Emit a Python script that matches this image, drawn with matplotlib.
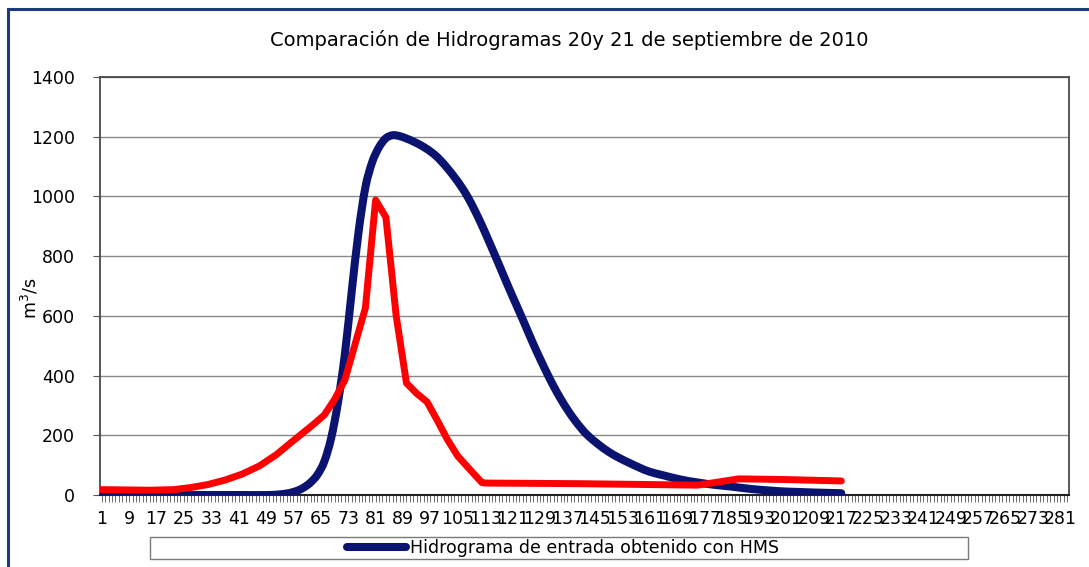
import matplotlib
matplotlib.use("Agg")
import numpy as np
import matplotlib.pyplot as plt
from matplotlib.lines import Line2D
from matplotlib.patches import Rectangle, PathPatch
from matplotlib.path import Path

# Hydrograph samples (time step, discharge in m3/s)
hms_step = [1, 20, 40, 50, 55, 58, 60, 62, 64, 66, 68, 70, 72, 74, 76, 78, 80,
            82, 84, 86, 88, 90, 92, 95, 98, 100, 102, 104, 106, 108, 110, 112,
            114, 116, 118, 120, 122, 124, 127, 129, 131, 133, 135, 137, 139,
            141, 143, 146, 149, 152, 155, 158, 161, 165, 170, 175, 180, 185,
            190, 195, 200, 205, 210, 217]
hms_flow = [0, 0, 0, 0, 5, 14, 25, 42, 68, 112, 190, 310, 470, 680, 880, 1030,
            1115, 1165, 1195, 1205, 1202, 1194, 1184, 1166, 1142, 1120, 1094,
            1065, 1033, 996, 952, 904, 852, 799, 745, 691, 639, 587, 507, 457,
            409, 364, 323, 286, 253, 224, 199, 170, 145, 125, 108, 92, 78, 66,
            52, 42, 34, 28, 21, 16, 12, 10, 8, 6]

obs_step = [1, 15, 22, 27, 32, 37, 42, 47, 52, 56, 60, 63, 66, 69, 72, 78, 81,
            84, 87, 90, 93, 96, 99, 102, 105, 108, 112, 113, 140, 175, 182, 187,
            200, 217]
obs_flow = [18, 16, 18, 25, 35, 50, 70, 97, 135, 173, 210, 238, 268, 320, 385,
            626, 988, 930, 600, 375, 340, 312, 250, 185, 130, 92, 42, 40, 38, 33,
            45, 54, 52, 47]

n_steps = 283
tick_steps = list(range(1, 282, 8))
y_ticks = [0, 200, 400, 600, 800, 1000, 1200, 1400]

title = "Comparación de Hidrogramas 20y 21 de septiembre de 2010"
hms_label = "Hidrograma de entrada obtenido con HMS"


def smooth_path(xs, ys, tension=6.0):
    """Cubic Bezier path through the points (Catmull-Rom style smoothing)."""
    x = np.asarray(xs, float)
    y = np.asarray(ys, float)
    verts = [(x[0], y[0])]
    codes = [Path.MOVETO]
    n = len(x)
    for i in range(n - 1):
        x0, y0 = (x[i - 1], y[i - 1]) if i > 0 else (x[i], y[i])
        x3, y3 = (x[i + 2], y[i + 2]) if i + 2 < n else (x[i + 1], y[i + 1])
        c1 = (x[i] + (x[i + 1] - x0) / tension, y[i] + (y[i + 1] - y0) / tension)
        c2 = (x[i + 1] - (x3 - x[i]) / tension, y[i + 1] - (y3 - y[i]) / tension)
        verts += [c1, c2, (x[i + 1], y[i + 1])]
        codes += [Path.CURVE4] * 3
    return Path(verts, codes)


W, H = 1089, 567
fig = plt.figure(figsize=(W / 100, H / 100), dpi=100)
fig.patch.set_facecolor("white")

# outer chart frame
frame_col = "#1f3b7d"
fig.add_artist(Line2D([8 / W, 8 / W], [1 - 9 / H, -0.1], color=frame_col,
                      lw=2.2, transform=fig.transFigure))
fig.add_artist(Line2D([8 / W, 1.1], [1 - 9 / H, 1 - 9 / H], color=frame_col,
                      lw=2.2, transform=fig.transFigure))

ax = fig.add_axes([100 / W, 1 - 495 / H, 969 / W, 418 / H])
hms_col = "#0a1470"
ax.add_patch(PathPatch(smooth_path(hms_step, hms_flow), fill=False,
                       edgecolor=hms_col, lw=5.8, capstyle="round",
                       joinstyle="round", zorder=3))
ax.plot(obs_step, obs_flow, color="#ff0000", lw=5.0, solid_capstyle="round",
        solid_joinstyle="round", zorder=4)

ax.set_xlim(0.5, n_steps + 0.5)
ax.set_ylim(0, 1400)
ax.set_yticks(y_ticks)
ax.set_xticks(tick_steps)
ax.set_xticklabels([str(t) for t in tick_steps])
ax.set_xticks(range(1, n_steps + 1), minor=True)
ax.tick_params(axis="x", which="both", direction="out", length=5, width=0.6,
               color="#555555", labelsize=12.5, pad=6)
ax.tick_params(axis="y", which="major", direction="out", length=5, width=0.8,
               color="#555555", labelsize=12.5, pad=13)
ax.grid(axis="y", color="#8a8a8a", lw=1.0)
ax.set_axisbelow(True)
for side in ["left", "right", "top"]:
    ax.spines[side].set_color("#4a4a4a")
    ax.spines[side].set_linewidth(1.3)
ax.spines["bottom"].set_color("#222222")
ax.spines["bottom"].set_linewidth(1.5)

ax.set_ylabel(r"m$^3$/s", fontsize=12.5)
ax.yaxis.set_label_coords(-0.061, 0.47)

fig.text(569 / W, 1 - 40 / H, title, ha="center", va="center", fontsize=14)

# legend box
fig.add_artist(Rectangle((150 / W, 1 - 559 / H), 818 / W, 22 / H,
                         transform=fig.transFigure, fill=False,
                         edgecolor="#7a7a7a", lw=1.0))
handle = Line2D([], [], color=hms_col, lw=5.8, solid_capstyle="round")
fig.legend([handle], [hms_label], loc="center", frameon=False,
           bbox_to_anchor=(563 / W, 1 - 548 / H), fontsize=12.5,
           handlelength=3.4, handletextpad=0.2, borderpad=0)

fig.savefig("out.png", dpi=100)
